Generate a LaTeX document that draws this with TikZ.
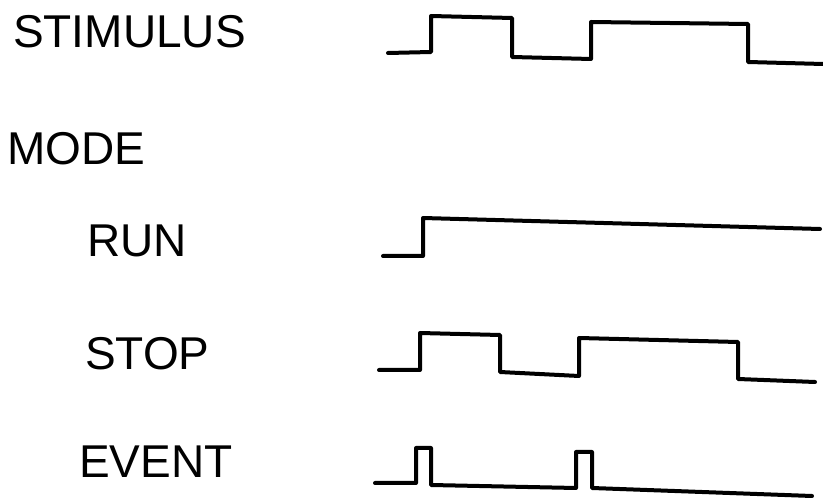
\documentclass[tikz,border=0pt]{standalone}
\usepackage{fontspec}
\setmainfont{Liberation Sans}
\usepackage{tikz}
\usetikzlibrary{calc}

\begin{document}
\begin{tikzpicture}[x=1pt,y=-1pt,
  etiket/.style={inner sep=0pt,anchor=base west,font=\fontsize{46}{50}\selectfont},
  dalga/.style={line width=4pt,line join=round,line cap=round}]
\useasboundingbox (0,0) rectangle (823,502);
% 1) Stimulus
\node[etiket] (stimulus) at (13,48) {STIMULUS};
\draw[dalga] (388,53)--(431,52)--(431,16)--(512,18)--(512,57)--(591,59)--(591,22)--(748,24)--(748,62)--(823,64);
% 2) Mode
\node[etiket] (mode) at (7,165) {MODE};
% 2a) Run
\node[etiket] (run) at (87,257) {RUN};
\draw[dalga] (383,256)--(423,256)--(423,218)--(820,229);
% 2b) Stop
\node[etiket] (stop) at (85,370) {STOP};
\draw[dalga] (379,370)--(420,370)--(420,333)--(500,335)--(500,372)--(579,376)--(579,338)--(738,342)--(738,379)--(815,382);
% 2c) Event
\node[etiket] (event) at (79,478) {EVENT};
\draw[dalga] (375,483)--(416,483)--(416,448)--(431,448)--(431,485)--(576,488)--(576,452)--(592,452)--(592,488)--(812,496);
\end{tikzpicture}
\end{document}
